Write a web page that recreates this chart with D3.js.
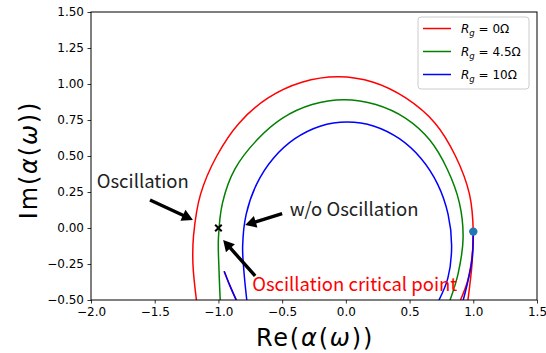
<!DOCTYPE html>
<html>
<head>
<meta charset="utf-8">
<script src="https://cdn.jsdelivr.net/npm/d3@7"></script>
<style>
  body { margin: 0; background: #fff; }
  text { font-family: "DejaVu Sans", sans-serif; }
  .jp { font-family: "Noto Sans CJK JP", "Noto Sans", sans-serif; }
</style>
</head>
<body>
<svg id="chart" width="546" height="353"></svg>
<script>
// ---------- DATA ---------- //
const xTicks = [-2.0, -1.5, -1.0, -0.5, 0.0, 0.5, 1.0, 1.5];
const yTicks = [-0.50, -0.25, 0.00, 0.25, 0.50, 0.75, 1.00, 1.25, 1.50];

const seriesNames = ["0", "4.5", "10"];
const seriesColors = ["red", "green", "blue"];

// main loops [re, im]
const loopRg0 = [
  [0.89, -0.52], [0.955, -0.37], [0.99, -0.20], [1.00, -0.03], [0.97, 0.235], [0.86, 0.50],
  [0.70, 0.728], [0.47, 0.903], [0.215, 1.012], [-0.06, 1.05], [-0.345, 1.012],
  [-0.61, 0.903], [-0.838, 0.728], [-1.013, 0.50], [-1.14, 0.235], [-1.195, -0.05],
  [-1.20, -0.25], [-1.17, -0.52]
];
const loopRg45 = [
  [0.81, -0.52], [0.88, -0.32], [0.92, -0.07], [0.89, 0.178], [0.795, 0.41],
  [0.66, 0.609], [0.47, 0.761], [0.235, 0.857], [-0.015, 0.89], [-0.265, 0.857],
  [-0.50, 0.761], [-0.70, 0.609], [-0.87, 0.41], [-0.967, 0.178], [-1.00, -0.07],
  [-0.995, -0.30], [-0.985, -0.52]
];
const loopRg10 = [
  [0.72, -0.52], [0.80, -0.35], [0.83, -0.127], [0.802, 0.096], [0.72, 0.305],
  [0.59, 0.483], [0.42, 0.62], [0.222, 0.707], [0.01, 0.736], [-0.202, 0.707],
  [-0.40, 0.62], [-0.57, 0.483], [-0.70, 0.305], [-0.782, 0.096], [-0.81, -0.127],
  [-0.80, -0.30], [-0.775, -0.52]
];

// short branches near the ends of the curves
const tailInner = [[-0.955, -0.30], [-0.91, -0.40], [-0.85, -0.52]];
const branchRg0 = [[1.00, -0.03], [0.99, -0.25], [0.955, -0.52]];
const branchRg10 = [[1.00, -0.03], [0.99, -0.22], [0.955, -0.38], [0.915, -0.52]];

const startPoint = [1.0, -0.025];
const criticalPoint = [-1.0, 0.0];

// annotations: text, text anchor point, arrow tail, arrow head
const noteLabels = ["Oscillation", "w/o Oscillation", "Oscillation critical point"];
const noteText = [[-1.955, 0.28], [-0.44, 0.08], [-0.735, -0.44]];
const noteTail = [[-1.537, 0.194], [-0.50, 0.10], [-0.712, -0.333]];
const noteHead = [[-1.20, 0.056], [-0.79, 0.02], [-0.963, -0.083]];
const noteColors = ["#222", "#222", "red"];

// ---------- CHART ---------- //
const margin = {top: 12, right: 9, bottom: 53, left: 91};
const width = 546 - margin.left - margin.right,
      height = 353 - margin.top - margin.bottom;

const svg = d3.select("#chart");
const g = svg.append("g").attr("transform", `translate(${margin.left},${margin.top})`);

const x = d3.scaleLinear().domain([-2, 1.5]).range([0, width]);
const y = d3.scaleLinear().domain([-0.5, 1.5]).range([height, 0]);

g.append("clipPath").attr("id", "clip")
  .append("rect").attr("width", width).attr("height", height);

// axes
const xAxis = d3.axisBottom(x).tickValues(xTicks).tickFormat(d3.format(".1f"))
  .tickSizeInner(3.5).tickSizeOuter(0).tickPadding(3.5);
const yAxis = d3.axisLeft(y).tickValues(yTicks).tickFormat(d3.format(".2f"))
  .tickSizeInner(3.5).tickSizeOuter(0).tickPadding(3.5);

const gx = g.append("g").attr("transform", `translate(0,${height})`).call(xAxis);
const gy = g.append("g").call(yAxis);
[gx, gy].forEach(a => {
  a.select(".domain").remove();
  a.selectAll("text").attr("font-size", 12).attr("font-family", "DejaVu Sans").attr("fill", "#000");
  a.selectAll("line").attr("stroke", "#000").attr("stroke-width", 0.8);
});

// curves
const line = d3.line().x(d => x(d[0])).y(d => y(d[1])).curve(d3.curveCatmullRom.alpha(0.5));
const curves = g.append("g").attr("clip-path", "url(#clip)");

const drawn = [
  {data: tailInner, c: 0}, {data: branchRg0, c: 0}, {data: loopRg0, c: 0},
  {data: loopRg45, c: 1},
  {data: tailInner, c: 2}, {data: branchRg10, c: 2}, {data: loopRg10, c: 2}
];
curves.selectAll("path")
  .data(drawn)
  .enter()
  .append("path")
  .attr("d", d => line(d.data))
  .attr("fill", "none")
  .attr("stroke", d => seriesColors[d.c])
  .attr("stroke-width", 1.5);

// start point and critical point
g.append("circle")
  .attr("cx", x(startPoint[0])).attr("cy", y(startPoint[1]))
  .attr("r", 4.2).attr("fill", "#1f77b4");

const cx = x(criticalPoint[0]), cy = y(criticalPoint[1]);
const s = 4, t = 1.4;
g.append("path")
  .attr("d", `M${cx - s},${cy - s + t}L${cx - s + t},${cy - s}L${cx},${cy - t}L${cx + s - t},${cy - s}L${cx + s},${cy - s + t}` +
             `L${cx + t},${cy}L${cx + s},${cy + s - t}L${cx + s - t},${cy + s}L${cx},${cy + t}` +
             `L${cx - s + t},${cy + s}L${cx - s},${cy + s - t}L${cx - t},${cy}Z`)
  .attr("fill", "#000");

// frame
g.append("rect").attr("width", width).attr("height", height)
  .attr("fill", "none").attr("stroke", "#000").attr("stroke-width", 1);

// annotations
function arrow(p0, p1) {
  const x0 = x(p0[0]), y0 = y(p0[1]), x1 = x(p1[0]), y1 = y(p1[1]);
  const dx = x1 - x0, dy = y1 - y0, L = Math.hypot(dx, dy);
  const ux = dx / L, uy = dy / L, nx = -uy, ny = ux;
  const hw = 1.7, hh = 6, hl = 11;
  const bx = x1 - ux * hl, by = y1 - uy * hl;
  const pts = [
    [x0 + nx * hw, y0 + ny * hw], [bx + nx * hw, by + ny * hw], [bx + nx * hh, by + ny * hh],
    [x1, y1], [bx - nx * hh, by - ny * hh], [bx - nx * hw, by - ny * hw], [x0 - nx * hw, y0 - ny * hw]
  ];
  return "M" + pts.map(p => p.join(",")).join("L") + "Z";
}

noteLabels.forEach((lab, i) => {
  g.append("path").attr("d", arrow(noteTail[i], noteHead[i])).attr("fill", "#000");
  g.append("text").attr("class", "jp")
    .attr("x", x(noteText[i][0])).attr("y", y(noteText[i][1]))
    .attr("font-size", 18.5).attr("fill", noteColors[i])
    .text(lab);
});

// axis labels
function mathLabel(sel, head) {
  sel.append("tspan").text(head + "(");
  sel.append("tspan").attr("font-style", "italic").attr("font-family", "DejaVu Sans").text("α");
  sel.append("tspan").text("(");
  sel.append("tspan").attr("font-style", "italic").attr("font-family", "DejaVu Sans").text("ω");
  sel.append("tspan").text("))");
}

const xl = svg.append("text")
  .attr("x", margin.left + width / 2 + 1).attr("y", 346)
  .attr("text-anchor", "middle").attr("font-size", 24).attr("letter-spacing", 1.8)
  .attr("font-family", "Noto Sans");
mathLabel(xl, "Re");

const yl = svg.append("text")
  .attr("transform", `translate(37,${margin.top + height / 2 + 4}) rotate(-90)`)
  .attr("text-anchor", "middle").attr("font-size", 24).attr("letter-spacing", 1.8)
  .attr("font-family", "Noto Sans");
mathLabel(yl, "Im");

// legend
const legend = svg.append("g").attr("transform", "translate(418,17)");
legend.append("rect").attr("width", 111).attr("height", 72).attr("rx", 3)
  .attr("fill", "#fff").attr("fill-opacity", 0.8).attr("stroke", "#ccc").attr("stroke-width", 1);
seriesNames.forEach((n, i) => {
  const row = legend.append("g").attr("transform", `translate(0,${11.5 + i * 23})`);
  row.append("line").attr("x1", 5).attr("x2", 33)
    .attr("stroke", seriesColors[i]).attr("stroke-width", 1.5);
  const tx = row.append("text").attr("x", 43).attr("y", 4.5).attr("font-size", 12);
  tx.append("tspan").attr("font-style", "italic").text("R");
  tx.append("tspan").attr("font-style", "italic").attr("font-size", 8.5).attr("dy", 3).text("g");
  tx.append("tspan").attr("dy", -3).text(" = " + n + "Ω");
});
</script>
</body>
</html>
